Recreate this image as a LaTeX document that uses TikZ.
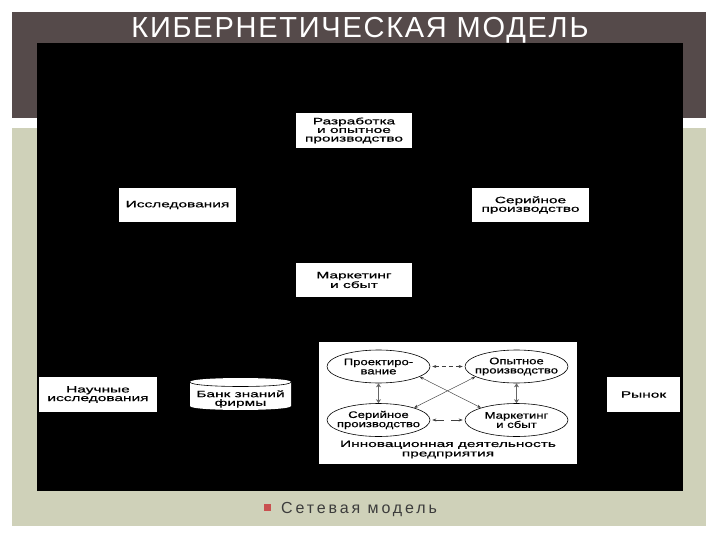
\documentclass[tikz,border=0pt]{standalone}
\usepackage{fontspec}
\setmainfont{Liberation Sans}
\newfontfamily\boxfont[FakeStretch=1.68,FakeBold=0.6]{Liberation Sans}
\newfontfamily\ovalfont[FakeStretch=1.38,FakeBold=0.6]{Liberation Sans}
\newfontfamily\titlefont[LetterSpace=6]{Liberation Sans}
\newfontfamily\subfont[LetterSpace=18]{Liberation Sans}
\usetikzlibrary{shapes.geometric,arrows.meta}
\definecolor{barbrown}{HTML}{554A4A}
\definecolor{panelgreen}{HTML}{CFD1B9}
\definecolor{bulletred}{HTML}{C9504F}
\definecolor{subgray}{HTML}{3C3C3C}
\tikzset{
  x=1pt,y=-1pt,
  blockbox/.style={fill=white,draw=none,inner sep=0pt,align=center,text=black,
    font=\boxfont\fontsize{9.2}{8.6}\selectfont},
  oval/.style={ellipse,draw=black,line width=0.6pt,fill=white,inner xsep=-8pt,inner ysep=0pt,align=center,text=black,
    minimum width=103pt,minimum height=33pt,font=\ovalfont\fontsize{9.5}{9.2}\selectfont},
  thinlink/.style={{Stealth[length=4pt,width=3pt]}-{Stealth[length=4pt,width=3pt]},line width=0.45pt,black!75},
  dashlink/.style={thinlink,dash pattern=on 4pt off 3pt},
  thicklink/.style={{Stealth[length=4pt,width=5pt]}-{Stealth[length=4pt,width=5pt]},line width=1.8pt,black!60},
}
\begin{document}
\begin{tikzpicture}
\useasboundingbox (0,0) rectangle (720,540);
\fill[white] (0,0) rectangle (720,540);
\fill[barbrown] (12,12) rectangle (706,118);
\fill[panelgreen] (12,128) rectangle (706,526);
\fill[black] (37,43) rectangle (683,491);
\node[text=white,font=\titlefont\fontsize{29}{29}\selectfont,inner sep=0pt,anchor=base] (title) at (360,38) {КИБЕРНЕТИЧЕСКАЯ МОДЕЛЬ};
\node[blockbox,minimum width=116pt,minimum height=35pt] (razr) at (354,130.5) {Разработка\\и опытное\\производство};
\node[blockbox,minimum width=117pt,minimum height=34pt] (issl) at (177.5,205) {Исследования};
\node[blockbox,minimum width=117pt,minimum height=34pt] (seri) at (530.5,205) {Серийное\\производство};
\node[blockbox,minimum width=116pt,minimum height=34pt] (mark) at (354,280) {Маркетинг\\и сбыт};
\node[blockbox,minimum width=118pt,minimum height=35pt] (nauch) at (98,394.5) {Научные\\исследования};
\node[blockbox,minimum width=73pt,minimum height=35pt] (rynok) at (643.5,394.5) {Рынок};
\fill[white] (319,342) rectangle (577,464);
% database cylinder
\fill[white] (190,382) .. controls (190,376.7) and (291,376.7) .. (291,382) -- (291,406) .. controls (291,411.3) and (190,411.3) .. (190,406) -- cycle;
\draw[black,line width=0.6pt] (190,382) .. controls (190,388) and (291,388) .. (291,382);
\node[font=\boxfont\fontsize{9.2}{8.6}\selectfont,align=center,inner sep=0pt] (bank) at (240.5,399) {Банк знаний\\фирмы};
% inner diagram
\node[oval] (proj) at (378.5,366.5) {Проектиро-\\вание};
\node[oval] (opyt) at (516.5,366.5) {Опытное\\производство};
\node[oval] (sers) at (378.5,420) {Серийное\\производство};
\node[oval] (msb) at (516.5,420) {Маркетинг\\и сбыт};
\draw[dashlink,shorten <=2pt,shorten >=2pt] (proj.east) -- (opyt.west);
\draw[dashlink,dash pattern=on 9pt off 7pt,shorten <=2pt,shorten >=2pt] (sers.east) -- (msb.west);
\draw[thicklink] (proj.south) -- (sers.north);
\draw[thicklink] (opyt.south) -- (msb.north);
\draw[thinlink] (proj.-14) -- (msb.161);
\draw[thinlink] (opyt.194) -- (sers.19);
\node[font=\boxfont\fontsize{9.2}{9.5}\selectfont,align=center,inner sep=0pt] (innov) at (448,449.5) {Инновационная деятельность\\предприятия};
% bottom line
\fill[bulletred] (263.5,503.5) rectangle (270.5,511);
\node[text=subgray,anchor=base west,inner sep=0pt,font=\subfont\fontsize{16}{16}\selectfont] (seti) at (281,513) {Сетевая модель};
\end{tikzpicture}
\end{document}
